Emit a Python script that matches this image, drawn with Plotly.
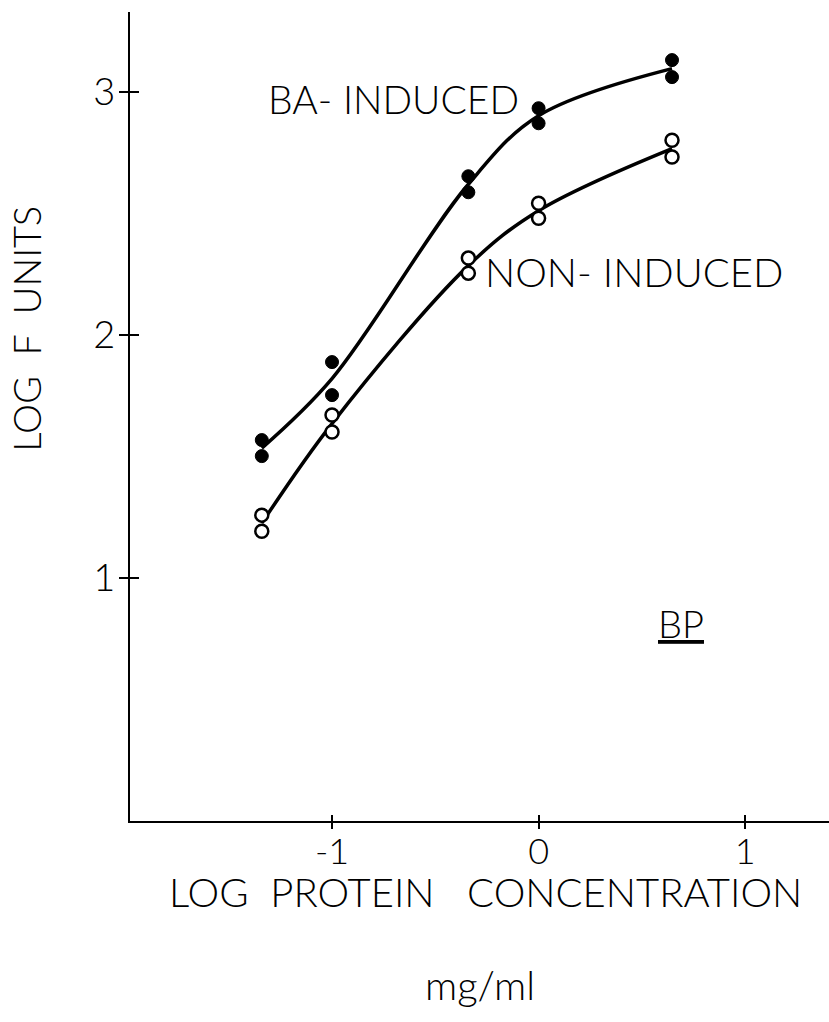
import plotly.graph_objects as go

# ---- data ----
conc = [-1.34, -1.0, -0.34, 0.0, 0.646]
ba_high = [1.568, 1.889, 2.654, 2.934, 3.132]
ba_low = [1.502, 1.753, 2.588, 2.872, 3.062]
non_high = [1.259, 1.671, 2.317, 2.543, 2.802]
non_low = [1.193, 1.601, 2.255, 2.481, 2.733]

x_tickvals = [-1, 0, 1]
x_ticktext = ["-1", "0", "1"]
y_tickvals = [1, 2, 3]
y_ticktext = ["1", "2", "3"]

x_range = [-1.978, 1.406]
y_range = [0.0, 3.33]

FONT = "Lato, Open Sans, DejaVu Sans, sans-serif"
W = 300

ba_mean = [(a + b) / 2 for a, b in zip(ba_high, ba_low)]
non_mean = [(a + b) / 2 for a, b in zip(non_high, non_low)]

fig = go.Figure()

# fitted curves
for ys in (ba_mean, non_mean):
    fig.add_trace(go.Scatter(x=conc, y=ys, mode="lines",
                             line=dict(color="black", width=3.5, shape="spline", smoothing=1.0),
                             showlegend=False, hoverinfo="skip"))

# points
for ys in (ba_high, ba_low):
    fig.add_trace(go.Scatter(x=conc, y=ys, mode="markers",
                             marker=dict(symbol="circle", size=13, color="black",
                                         line=dict(color="black", width=1)),
                             showlegend=False))
for ys in (non_high, non_low):
    fig.add_trace(go.Scatter(x=conc, y=ys, mode="markers",
                             marker=dict(symbol="circle", size=13, color="white",
                                         line=dict(color="black", width=2.5)),
                             showlegend=False))

# dummy trace for overlay axes (inner half of crossing ticks)
fig.add_trace(go.Scatter(x=[], y=[], xaxis="x2", yaxis="y2", showlegend=False))

fig.update_layout(
    width=829, height=1022,
    margin=dict(l=130, r=0, t=12, b=201),
    paper_bgcolor="white", plot_bgcolor="white",
    font=dict(family=FONT, color="black", weight=W),
    xaxis=dict(range=x_range, showgrid=False, zeroline=False, showline=True,
               linecolor="black", linewidth=2, ticks="outside", ticklen=6,
               tickwidth=2, tickcolor="black", tickvals=x_tickvals,
               ticktext=x_ticktext, tickfont=dict(size=36, family=FONT, weight=W),
               ticklabelstandoff=-8),
    yaxis=dict(range=y_range, showgrid=False, zeroline=False, showline=True,
               linecolor="black", linewidth=2, ticks="outside", ticklen=9,
               tickwidth=2, tickcolor="black", tickvals=y_tickvals,
               ticktext=y_ticktext, tickfont=dict(size=38, family=FONT, weight=W),
               ticklabelstandoff=-4),
    xaxis2=dict(range=x_range, overlaying="x", anchor="y2", showgrid=False,
                zeroline=False, showline=False, ticks="inside", ticklen=6,
                tickwidth=2, tickcolor="black", tickvals=x_tickvals,
                showticklabels=False),
    yaxis2=dict(range=y_range, overlaying="y", anchor="x2", showgrid=False,
                zeroline=False, showline=False, ticks="inside", ticklen=9,
                tickwidth=2, tickcolor="black", tickvals=y_tickvals,
                showticklabels=False),
    showlegend=False,
)

def ann(text, x, y, ref, size, angle=0):
    return dict(text=text, x=x, y=y, xref=ref[0], yref=ref[1], showarrow=False,
                xanchor="center", yanchor="middle", textangle=angle,
                font=dict(size=size, family=FONT, weight=W))

annotations = [
    ann("BA- INDUCED", -0.70, 2.97, ("x", "y"), 39),
    ann("NON- INDUCED", 0.46, 2.26, ("x", "y"), 40),
    ann("<u>BP</u>", 0.69, 0.815, ("x", "y"), 38),
    ann("LOG  PROTEIN   CONCENTRATION", 0.508, -0.088, ("paper", "paper"), 40),
    ann("mg/ml", 0.50, -0.203, ("paper", "paper"), 40),
    ann("LOG  F  UNITS", -0.148, 0.608, ("paper", "paper"), 38, -90),
]
fig.update_layout(annotations=annotations)

fig.write_html("out.html")
